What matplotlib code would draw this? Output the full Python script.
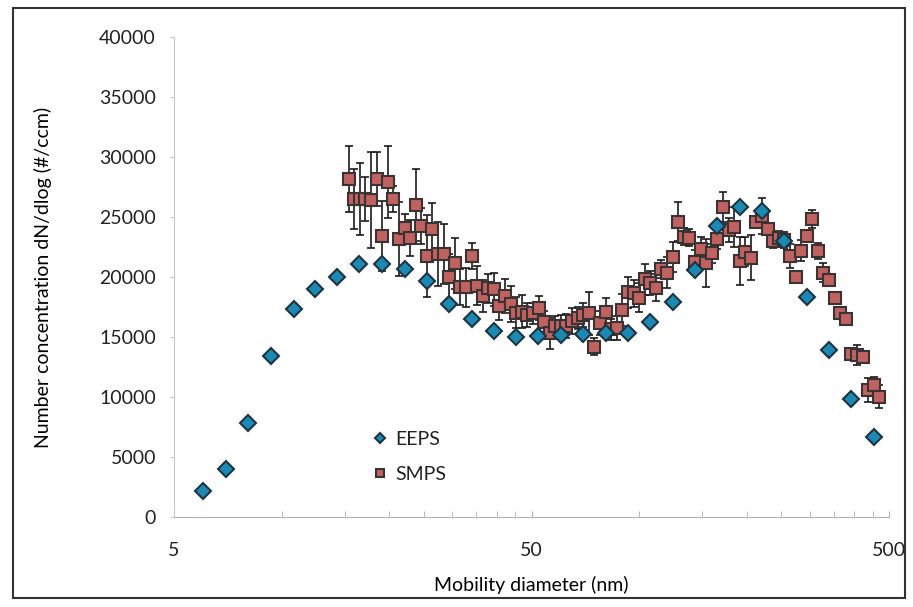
import matplotlib.pyplot as plt
from matplotlib.patches import Rectangle
from matplotlib.ticker import FixedLocator, NullFormatter

# EEPS: diametro de movilidad (nm) y concentracion
eeps_d = [6.04, 6.98, 8.06, 9.31, 10.8, 12.4, 14.3, 16.5, 19.1, 22.1, 25.5,
          29.4, 34.0, 39.2, 45.3, 52.3, 60.4, 69.8, 80.6, 93.1, 107.5, 124.1,
          143.3, 165.5, 191.1, 220.7, 254.8, 294.3, 339.8, 392.4, 453.2]
eeps_n = [2170, 4000, 7800, 13440, 17310, 19000, 20000, 21060, 21080, 20640,
          19690, 17780, 16500, 15530, 15030, 15100, 15200, 15250, 15360, 15360,
          16250, 17920, 20560, 24250, 25860, 25500, 23000, 18360, 13920, 9810,
          6640]

# SMPS: diametro, concentracion y desviacion
smps_d = [15.4, 15.96, 16.55, 17.16, 17.78, 18.44, 19.11, 19.81, 20.54, 21.29,
          22.07, 22.88, 23.71, 24.58, 25.48, 26.42, 27.39, 28.39, 29.43, 30.51,
          31.62, 32.78, 33.98, 35.23, 36.52, 37.86, 39.24, 40.68, 42.17, 43.71,
          45.32, 46.98, 48.70, 50.48, 52.33, 54.25, 56.23, 58.29, 60.43, 62.64,
          64.94, 67.32, 69.78, 72.34, 74.99, 77.73, 80.58, 83.53, 86.59, 89.77,
          93.05, 96.46, 100.0, 103.7, 107.5, 111.4, 115.5, 119.7, 124.1, 128.7,
          133.4, 138.3, 143.3, 148.6, 154.0, 159.7, 165.5, 171.6, 177.9, 184.4,
          191.1, 198.1, 205.4, 212.9, 220.7, 228.8, 237.2, 245.9, 254.9, 264.2,
          273.9, 283.9, 294.3, 305.1, 316.3, 327.9, 339.9, 352.3, 365.3, 378.6,
          392.5, 406.9, 421.8, 437.2, 453.3, 469.9]
smps_n = [28140, 26500, 26500, 26500, 26420, 28140, 23420, 27890, 26500, 23170,
          24110, 23220, 26000, 24280, 21750, 24000, 21920, 21920, 20030, 21140,
          19140, 19140, 21750, 19280, 18420, 19060, 18970, 17580, 18420, 17720,
          17030, 17110, 16800, 16970, 17440, 16280, 15310, 15920, 15920, 15920,
          16330, 16580, 16810, 16970, 14190, 16140, 17060, 15640, 15720, 17250,
          18720, 18640, 18280, 19810, 19470, 19110, 20670, 20360, 21690, 24610,
          23360, 23280, 21280, 22310, 21190, 21970, 23200, 25810, 23920, 24190,
          21330, 22110, 21610, 24610, 25080, 24030, 23030, 23220, 23080, 21750,
          19970, 22200, 23400, 24820, 22170, 20360, 19750, 18280, 17030, 16500,
          13560, 13500, 13360, 10580, 11000, 10030]
smps_err = [2750, 2500, 3000, 1850, 4000, 2250, 2900, 3000, 1100, 3100,
            1100, 1500, 3000, 1500, 3400, 2200, 2700, 2500, 1850, 2150,
            1500, 1600, 1100, 1600, 1300, 1200, 1400, 1200, 1400, 1500,
            1300, 1400, 1000, 900, 1000, 900, 1300, 800, 900, 1000,
            1100, 900, 1000, 1800, 700, 1000, 1200, 900, 1000, 1300,
            1300, 1100, 1200, 1300, 1000, 1100, 750, 1300, 1250, 1600,
            700, 700, 1000, 1000, 2000, 800, 900, 1250, 1000, 1650,
            2000, 1200, 1850, 400, 1500, 500, 600, 600, 700, 1000,
            300, 900, 500, 750, 650, 780, 300, 200, 200, 200,
            300, 830, 500, 1000, 700, 970]

plt.rcParams['font.family'] = ['Lato', 'DejaVu Sans']
plt.rcParams['text.color'] = '#222222'
plt.rcParams['xtick.labelcolor'] = '#222222'
plt.rcParams['ytick.labelcolor'] = '#222222'

fig = plt.figure(figsize=(9.13, 6.07), dpi=100)
ax = fig.add_axes([174 / 913, 1 - 517 / 607, 715 / 913, 480 / 607])

ax.errorbar(smps_d, smps_n, yerr=smps_err, fmt='none', ecolor='#1a1a1a',
            elinewidth=1.2, capsize=3, capthick=1.2, zorder=2)
ax.plot(smps_d, smps_n, 's', ms=8, mfc='#c0625f', mec='#3a3333', mew=1.5,
        zorder=3, label='SMPS')
ax.plot(eeps_d, eeps_n, 'D', ms=8, mfc='#1a8ab4', mec='#1f3440', mew=1.5,
        zorder=4, label='EEPS')

ax.set_xscale('log')
ax.set_xlim(5, 500)
ax.set_ylim(0, 40000)
ax.xaxis.set_major_locator(FixedLocator([5, 50, 500]))
ax.set_xticklabels(['5', '50', '500'])
minors = [10, 15, 20, 25, 30, 35, 40, 45, 100, 150, 200, 250, 300, 350, 400, 450]
ax.xaxis.set_minor_locator(FixedLocator(minors))
ax.xaxis.set_minor_formatter(NullFormatter())
ax.set_yticks(range(0, 40001, 5000))

for s in ['top', 'right']:
    ax.spines[s].set_visible(False)
ax.spines['left'].set_color('#c8c8c8')
ax.spines['bottom'].set_color('#b0b0b0')
ax.tick_params(axis='y', length=3, color='#c8c8c8', labelsize=14, pad=10)
ax.tick_params(axis='x', which='major', length=4, direction='in',
               color='#b0b0b0', labelsize=14, pad=18)
ax.tick_params(axis='x', which='minor', length=4, direction='in', color='#b0b0b0')

ax.set_xlabel('Mobility diameter (nm)', fontsize=14, labelpad=12)
ax.set_ylabel('Number concentration dN/dlog (#/ccm)', fontsize=14, labelpad=34)

h, l = ax.get_legend_handles_labels()
leg = ax.legend(h[::-1], l[::-1], loc='upper left', bbox_to_anchor=(0.25, 0.215),
                frameon=False, fontsize=14, markerscale=0.7, handletextpad=0.3,
                labelspacing=0.9, handlelength=1.0)

# marco exterior de la figura escaneada
fig.patches.append(Rectangle((13 / 913, 1 - 598 / 607), 892 / 913, 590 / 607,
                             transform=fig.transFigure, fill=False,
                             edgecolor='#333333', linewidth=1.5))

fig.savefig('out.png', dpi=100)
